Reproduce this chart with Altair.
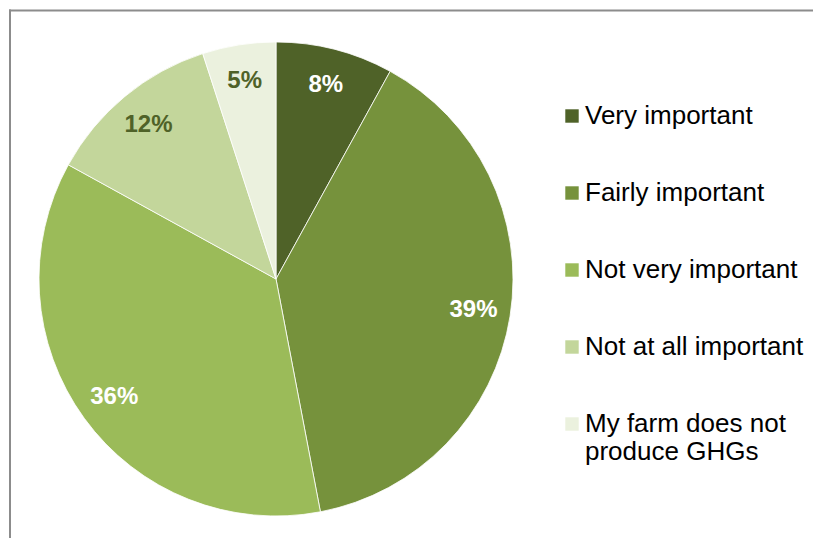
import altair as alt
import pandas as pd

categories = ["Very important", "Fairly important", "Not very important",
              "Not at all important", "My farm does not produce GHGs"]
values = [8, 39, 36, 12, 5]
colors = ["#4f6228", "#76923c", "#9bbb59", "#c3d69b", "#ebf1de"]

df = pd.DataFrame({
    "category": categories,
    "value": values,
    "order": list(range(len(categories))),
})
df["label"] = df["value"].astype(str) + "%"

W, H = 805, 530
CX, CY, R = 267, 270, 237

base = alt.Chart(df).encode(
    theta=alt.Theta("value:Q", stack=True),
    order=alt.Order("order:Q"),
)

arcs = base.mark_arc(outerRadius=R, stroke="white", strokeWidth=0.8).encode(
    x=alt.value(CX), y=alt.value(CY),
    color=alt.Color(
        "category:N",
        scale=alt.Scale(domain=categories, range=colors),
        sort=categories,
        legend=alt.Legend(
            title=None, orient="none", legendX=550, legendY=94,
            symbolType="square", symbolSize=180, symbolStrokeWidth=0,
            labelFont="Liberation Sans", labelFontSize=26, labelColor="#000000",
            labelLimit=400, labelOffset=0, rowPadding=51,
            labelExpr="datum.label == 'My farm does not produce GHGs' ? ['My farm does not', 'produce GHGs'] : datum.label",
        ),
    ),
)

texts = base.mark_text(
    radius=200, font="Liberation Sans", fontSize=24, fontWeight="bold"
).encode(
    x=alt.value(CX), y=alt.value(CY),
    text="label:N",
    color=alt.condition(
        "datum.category == 'Not at all important' || datum.category == 'My farm does not produce GHGs'",
        alt.value("#4f6228"), alt.value("#ffffff"),
    ),
)

frame_df = pd.DataFrame({"a": [0]})
top_rule = alt.Chart(frame_df).mark_rule(color="#8c8c8c", strokeWidth=2).encode(
    x=alt.value(0), x2=alt.value(W), y=alt.value(1.5)
)
left_rule = alt.Chart(frame_df).mark_rule(color="#8c8c8c", strokeWidth=2).encode(
    x=alt.value(1), y=alt.value(0.5), y2=alt.value(H)
)

chart = alt.layer(top_rule, left_rule, arcs, texts).resolve_scale(
    color="independent"
).properties(
    width=W, height=H, padding=0, background="white",
    autosize=alt.AutoSizeParams(type="fit", contains="padding"),
).configure(
    view=alt.ViewConfig(strokeWidth=0, stroke="transparent"),
)

chart.save("out.html", embed_options={"renderer": "svg", "actions": False})
